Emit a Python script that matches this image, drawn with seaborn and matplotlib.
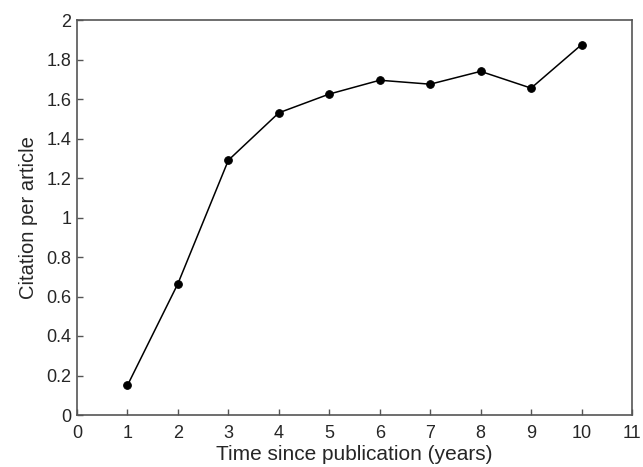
import pandas as pd
import seaborn as sns
import matplotlib.pyplot as plt

years = [1, 2, 3, 4, 5, 6, 7, 8, 9, 10]
citations = [0.15, 0.665, 1.29, 1.53, 1.625, 1.695, 1.675, 1.74, 1.655, 1.875]
x_ticks = list(range(0, 12))
y_ticks = [0, 0.2, 0.4, 0.6, 0.8, 1, 1.2, 1.4, 1.6, 1.8, 2]
y_labels = ['0', '0.2', '0.4', '0.6', '0.8', '1', '1.2', '1.4', '1.6', '1.8', '2']

df = pd.DataFrame({'year': years, 'cpa': citations})

sns.set_style('white')
plt.rcParams['font.family'] = ['Liberation Sans', 'DejaVu Sans']

fig = plt.figure(figsize=(6.43, 4.67), dpi=100)
ax = fig.add_axes([77 / 643, 1 - 415 / 467, (632 - 77) / 643, (415 - 20) / 467])

sns.lineplot(data=df, x='year', y='cpa', ax=ax, color='black', linewidth=1.1,
             marker='o', markersize=5.5, markeredgecolor='black')

ax.set_xlim(0, 11)
ax.set_ylim(0, 2)
ax.set_xticks(x_ticks)
ax.set_yticks(y_ticks)
ax.set_yticklabels(y_labels)
ax.tick_params(direction='in', length=4, width=1, color='#555555', labelsize=13,
               left=True, bottom=True)
ax.tick_params(axis='x', pad=7)
ax.tick_params(axis='y', pad=4)
for s in ax.spines.values():
    s.set_color('#555555')
    s.set_linewidth(1.2)

ax.set_xlabel('Time since publication (years)', fontsize=15, labelpad=2)
ax.set_ylabel('Citation per article', fontsize=14.5, labelpad=6)

fig.savefig('out.png', dpi=100)
